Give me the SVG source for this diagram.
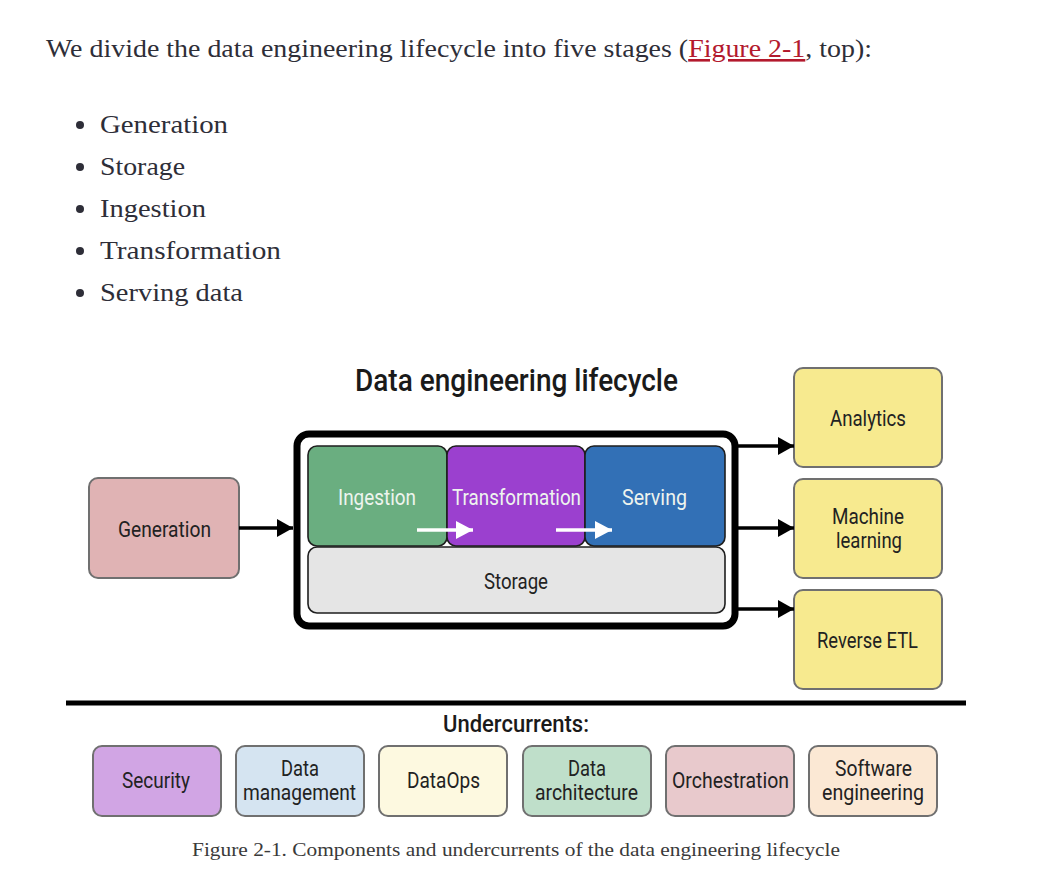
<svg xmlns="http://www.w3.org/2000/svg" width="1056" height="894" viewBox="0 0 1056 894">
<defs>
<style>
.body{font-family:"Liberation Serif","DejaVu Serif",serif;font-size:26px;fill:#2e2e38}
.cap{font-family:"Liberation Serif","DejaVu Serif",serif;font-size:19px;fill:#3a3a3a}
.lbl{font-family:"Roboto","Liberation Sans",sans-serif;font-size:22px;fill:#222}
.wlbl{font-family:"Roboto","Liberation Sans",sans-serif;font-size:22px;fill:#eef4ee}
.ttl{font-family:"Roboto","Liberation Sans",sans-serif;font-size:32px;font-weight:500;fill:#1a1a1a}
.sub{font-family:"Roboto","Liberation Sans",sans-serif;font-size:24px;font-weight:500;fill:#1a1a1a}
.box{stroke:#707070;stroke-width:2}
.stage{stroke:#1e1e1e;stroke-width:1.6}
.conn{stroke:#000;stroke-width:3.5;fill:none}
.warrow{stroke:#fff;stroke-width:3.5;fill:none}
</style>
<marker id="ah" markerWidth="16" markerHeight="18" refX="16" refY="9" orient="auto" markerUnits="userSpaceOnUse">
<path d="M0,0 L16,9 L0,18 Z" fill="#000"/>
</marker>
<marker id="wah" markerWidth="17" markerHeight="18" refX="17" refY="9" orient="auto" markerUnits="userSpaceOnUse">
<path d="M0,0 L17,9 L0,18 Z" fill="#fff"/>
</marker>
</defs>
<rect width="1056" height="894" fill="#fff"/>

<g id="intro">
<text class="body" x="46" y="57" textLength="826" lengthAdjust="spacingAndGlyphs">We divide the data engineering lifecycle into five stages (<tspan fill="#b3192d" text-decoration="underline">Figure 2-1</tspan>, top):</text>
<circle cx="80" cy="125" r="4" fill="#2e2e38"/>
<text class="body" x="100" y="133" textLength="128" lengthAdjust="spacingAndGlyphs">Generation</text>
<circle cx="80" cy="167" r="4" fill="#2e2e38"/>
<text class="body" x="100" y="175" textLength="85" lengthAdjust="spacingAndGlyphs">Storage</text>
<circle cx="80" cy="209" r="4" fill="#2e2e38"/>
<text class="body" x="100" y="217" textLength="106" lengthAdjust="spacingAndGlyphs">Ingestion</text>
<circle cx="80" cy="251" r="4" fill="#2e2e38"/>
<text class="body" x="100" y="259" textLength="181" lengthAdjust="spacingAndGlyphs">Transformation</text>
<circle cx="80" cy="293" r="4" fill="#2e2e38"/>
<text class="body" x="100" y="301" textLength="143" lengthAdjust="spacingAndGlyphs">Serving data</text>
</g>

<text class="ttl" x="355" y="391" textLength="323" lengthAdjust="spacingAndGlyphs">Data engineering lifecycle</text>

<g id="lifecycle">
<rect x="297" y="434" width="438" height="192" rx="12" fill="#fff" stroke="#000" stroke-width="7"/>
</g>
<g id="ingestion">
<rect class="stage" x="308" y="446" width="139" height="100" rx="9" fill="#6aae80"/>
<text class="wlbl" x="338" y="505" textLength="78" lengthAdjust="spacingAndGlyphs">Ingestion</text>
</g>
<g id="transformation">
<rect class="stage" x="447" y="446" width="138" height="100" rx="9" fill="#9b40cf"/>
<text class="wlbl" x="452" y="505" textLength="129" lengthAdjust="spacingAndGlyphs">Transformation</text>
</g>
<g id="serving">
<rect class="stage" x="585" y="446" width="140" height="100" rx="9" fill="#3270b6"/>
<text class="wlbl" x="622" y="505" textLength="65" lengthAdjust="spacingAndGlyphs">Serving</text>
</g>
<g id="storage">
<rect class="stage" x="308" y="547" width="417" height="66" rx="9" fill="#e5e5e5"/>
<text class="lbl" x="484" y="589" textLength="64" lengthAdjust="spacingAndGlyphs">Storage</text>
</g>
<g id="generation">
<rect class="box" x="89" y="478" width="150" height="100" rx="9" fill="#e0b3b4"/>
<text class="lbl" x="118" y="537" textLength="93" lengthAdjust="spacingAndGlyphs">Generation</text>
</g>
<g id="analytics">
<rect class="box" x="794" y="368" width="148" height="99" rx="9" fill="#f7ea8f"/>
<text class="lbl" x="830" y="426" textLength="76" lengthAdjust="spacingAndGlyphs">Analytics</text>
</g>
<g id="ml">
<rect class="box" x="794" y="479" width="148" height="99" rx="9" fill="#f7ea8f"/>
<text class="lbl" x="832" y="524" textLength="72" lengthAdjust="spacingAndGlyphs">Machine</text>
<text class="lbl" x="836" y="548" textLength="66" lengthAdjust="spacingAndGlyphs">learning</text>
</g>
<g id="retl">
<rect class="box" x="794" y="590" width="148" height="99" rx="9" fill="#f7ea8f"/>
<text class="lbl" x="817" y="648" textLength="101" lengthAdjust="spacingAndGlyphs">Reverse ETL</text>
</g>

<g id="connectors">
<line class="conn" x1="239" y1="528" x2="293" y2="528" marker-end="url(#ah)"/>
<line class="conn" x1="738" y1="446" x2="794" y2="446" marker-end="url(#ah)"/>
<line class="conn" x1="738" y1="528" x2="794" y2="528" marker-end="url(#ah)"/>
<line class="conn" x1="738" y1="609" x2="794" y2="609" marker-end="url(#ah)"/>
<line class="warrow" x1="417" y1="530" x2="473" y2="530" marker-end="url(#wah)"/>
<line class="warrow" x1="556" y1="530" x2="612" y2="530" marker-end="url(#wah)"/>
</g>

<line x1="66" y1="703" x2="966" y2="703" stroke="#000" stroke-width="5"/>
<text class="sub" x="443" y="732" textLength="146" lengthAdjust="spacingAndGlyphs">Undercurrents:</text>

<g id="security">
<rect class="box" x="93" y="746" width="128" height="70" rx="9" fill="#d1a5e4"/>
<text class="lbl" x="122" y="788" textLength="68" lengthAdjust="spacingAndGlyphs">Security</text>
</g>
<g id="datamgmt">
<rect class="box" x="236" y="746" width="128" height="70" rx="9" fill="#d5e4f1"/>
<text class="lbl" x="281" y="776" textLength="38" lengthAdjust="spacingAndGlyphs">Data</text>
<text class="lbl" x="243" y="800" textLength="113" lengthAdjust="spacingAndGlyphs">management</text>
</g>
<g id="dataops">
<rect class="box" x="379" y="746" width="128" height="70" rx="9" fill="#fdf9e0"/>
<text class="lbl" x="407" y="788" textLength="73" lengthAdjust="spacingAndGlyphs">DataOps</text>
</g>
<g id="dataarch">
<rect class="box" x="523" y="746" width="128" height="70" rx="9" fill="#bfdfca"/>
<text class="lbl" x="568" y="776" textLength="38" lengthAdjust="spacingAndGlyphs">Data</text>
<text class="lbl" x="535" y="800" textLength="103" lengthAdjust="spacingAndGlyphs">architecture</text>
</g>
<g id="orchestration">
<rect class="box" x="666" y="746" width="128" height="70" rx="9" fill="#e8c9cc"/>
<text class="lbl" x="672" y="788" textLength="117" lengthAdjust="spacingAndGlyphs">Orchestration</text>
</g>
<g id="softeng">
<rect class="box" x="809" y="746" width="128" height="70" rx="9" fill="#fbe8d4"/>
<text class="lbl" x="835" y="776" textLength="77" lengthAdjust="spacingAndGlyphs">Software</text>
<text class="lbl" x="822" y="800" textLength="102" lengthAdjust="spacingAndGlyphs">engineering</text>
</g>

<text class="cap" x="192" y="856" textLength="648" lengthAdjust="spacingAndGlyphs">Figure 2-1. Components and undercurrents of the data engineering lifecycle</text>
</svg>
